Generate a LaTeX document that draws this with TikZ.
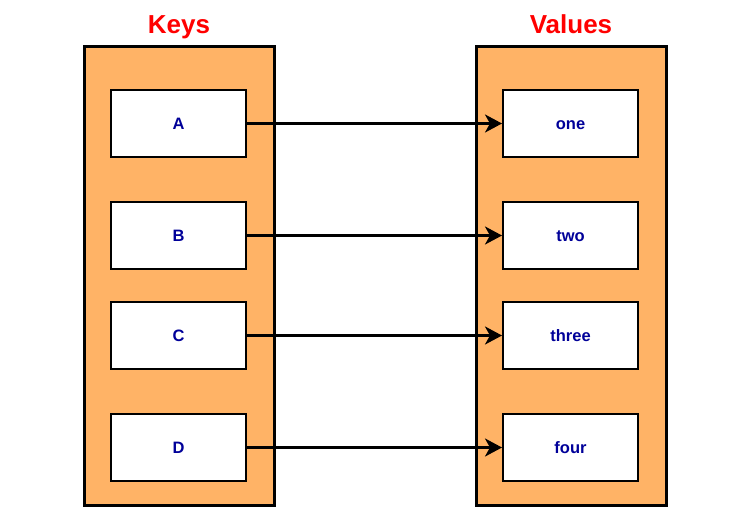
\documentclass[tikz,border=0pt]{standalone}
\usepackage{fontspec}
\setmainfont{Liberation Sans}
\usetikzlibrary{arrows.meta}
\definecolor{boxorange}{RGB}{255,179,102}
\definecolor{txtblue}{RGB}{0,0,153}
\begin{document}
\begin{tikzpicture}[x=1pt,y=-1pt,
  panel/.style={draw=black,line width=3pt,fill=boxorange},
  cell/.style={draw=black,line width=2pt,fill=white,minimum width=135pt,minimum height=67pt,inner sep=0pt,
    text height=12pt,text depth=0pt,
    font=\fontsize{16.5}{18}\selectfont\bfseries,text=txtblue},
  title/.style={anchor=base,font=\fontsize{26}{30}\selectfont\bfseries,text=red},
  link/.style={draw=black,line width=2.5pt,-{Stealth[length=17pt,width=18pt,inset=5pt]}}]
\useasboundingbox (0,0) rectangle (741,530);
\fill[white] (0,0) rectangle (741,530);
\path[panel] (84,46) rectangle (274,505);
\path[panel] (476,46) rectangle (666,505);
\node[title] (keys) at (179,33) {Keys};
\node[title] (vals) at (571,33) {Values};
\node[cell] (a) at (178.5,123.5) {A};
\node[cell] (b) at (178.5,235.5) {B};
\node[cell] (c) at (178.5,335.5) {C};
\node[cell] (d) at (178.5,447.5) {D};
\node[cell] (one) at (570.5,123.5) {one};
\node[cell] (two) at (570.5,235.5) {two};
\node[cell] (three) at (570.5,335.5) {three};
\node[cell] (four) at (570.5,447.5) {four};
\draw[link] (a) -- (one);
\draw[link] (b) -- (two);
\draw[link] (c) -- (three);
\draw[link] (d) -- (four);
\end{tikzpicture}
\end{document}
